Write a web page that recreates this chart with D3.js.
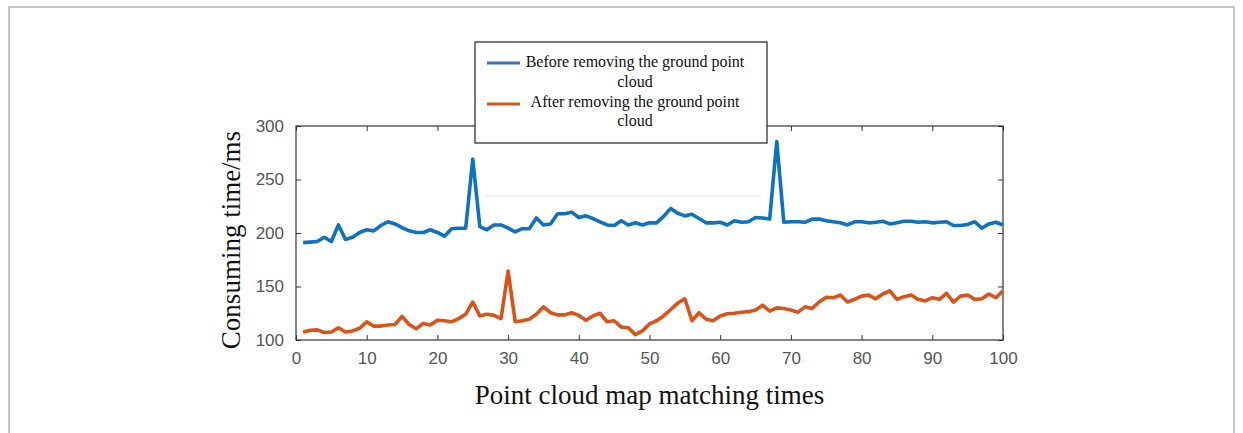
<!DOCTYPE html>
<html><head><meta charset="utf-8">
<script src="https://cdn.jsdelivr.net/npm/d3@7/dist/d3.min.js"></script>
<style>html,body{margin:0;padding:0;background:#fff;}svg{display:block;}</style>
</head><body>
<svg id="chart" width="1243" height="433"></svg>
<script>
const seriesNames = ["Before removing the ground point cloud", "After removing the ground point cloud"];
const legendLines = [["Before removing the ground point", "cloud"], ["After removing the ground point", "cloud"]];
const beforeValues = [191,191.5,192,196,192,207.5,194,196,200.5,203,202,207,210.5,208.5,205,202,200.5,200.5,203,200.5,197,204,204.5,204.5,269,206,203,207.5,207.5,204.5,201,204,204,214,207.5,208.5,218,218,219.5,214.5,216,213.5,210.5,207.5,207,211.5,207.5,209.5,207.5,209.5,209.5,215.5,223,218.5,216,217.5,213.5,209.5,209.5,210,207.5,211.5,210,210.5,214.5,214,213,285.5,210,210.5,210.5,210,213,213,211.5,210.5,209.5,207.5,210.5,210.5,209.5,210,211,208.5,209.5,211,211,210,210.5,209.5,210,210.5,207,207,208,210.5,204.5,208.5,210,207.5];
const afterValues = [107.5,109,109.5,107,107.5,111.5,107.5,108.5,111,117,113,113,114,114.5,122,114.5,110.5,115.5,114,118.5,118,117,120,124,135.5,122.5,124,123,120,164.5,117,118,119.5,124,131,125.5,123.5,123.5,125.5,123,118.5,122.5,125,117,118,112,111.5,105,108.5,115,118,122.5,128.5,134.5,138.5,118,125.5,119.5,118,122.5,124.5,125,126,126.5,128,132.5,127,130,129.5,128,126,131,129.5,135.5,140,139.5,142,135.5,138,141,142,138.5,143,146,138,140.5,142,138,136.5,139.5,138,143.5,135.5,141,142,138,138.5,143,139.5,146];
const xTicks = [0,10,20,30,40,50,60,70,80,90,100];
const yTicks = [100,150,200,250,300];
const xLabel = "Point cloud map matching times";
const yLabel = "Consuming time/ms";

const svg = d3.select("#chart");
const L = 296, R = 1003, T = 126, B = 340;
const x = d3.scaleLinear().domain([0, 100]).range([L, R]);
const y = d3.scaleLinear().domain([100, 300]).range([B, T]);

// outer frame
svg.append("path").attr("d", `M9,433 L9,7 L1234,7 L1234,433`).attr("fill", "none")
  .attr("stroke", "#b5b5b5").attr("stroke-width", 1.5);

const tickStyle = g => {
  g.select(".domain").remove();
  g.selectAll(".tick line").attr("stroke", "#333").attr("stroke-width", 1);
  g.selectAll(".tick text").attr("fill", "#555").attr("font-family", "Liberation Sans, Arial, sans-serif").attr("font-size", 17);
};
svg.append("g").attr("transform", `translate(0,${B})`)
  .call(d3.axisBottom(x).tickValues(xTicks).tickSizeInner(-5).tickSizeOuter(0).tickPadding(12))
  .call(tickStyle);
svg.append("g").attr("transform", `translate(0,${T})`)
  .call(d3.axisTop(x).tickValues(xTicks).tickSizeInner(-5).tickSizeOuter(0).tickFormat(""))
  .call(tickStyle);
svg.append("g").attr("transform", `translate(${L},0)`)
  .call(d3.axisLeft(y).tickValues(yTicks).tickSizeInner(-5).tickSizeOuter(0).tickPadding(12))
  .call(tickStyle);
svg.append("g").attr("transform", `translate(${R},0)`)
  .call(d3.axisRight(y).tickValues(yTicks).tickSizeInner(-5).tickSizeOuter(0).tickFormat(""))
  .call(tickStyle);

// box
svg.append("rect").attr("x", L).attr("y", T).attr("width", R - L).attr("height", B - T)
  .attr("fill", "none").attr("stroke", "#333").attr("stroke-width", 1.2);

// faint artifact line
svg.append("line").attr("x1", 485).attr("x2", 761).attr("y1", 196).attr("y2", 196)
  .attr("stroke", "#e4e4e4").attr("stroke-width", 1);

const colors = ["#0f72c0", "#d9541a"];
const line = d3.line().x((d, i) => x(i + 1)).y(d => y(d));
[beforeValues, afterValues].forEach((vals, k) => {
  svg.append("path").datum(vals).attr("d", line).attr("fill", "none")
    .attr("stroke", colors[k]).attr("stroke-width", 3.6).attr("stroke-linejoin", "round");
});

// legend
const lg = svg.append("g");
lg.append("rect").attr("x", 475).attr("y", 42).attr("width", 292).attr("height", 101)
  .attr("fill", "#fff").attr("stroke", "#222").attr("stroke-width", 1.2);
const legendColors = ["#3d70c4", "#cc5a26"];
const lineY = [63, 104];
const textY = [[67, 87], [107, 126]];
legendLines.forEach((lines, k) => {
  lg.append("line").attr("x1", 487).attr("x2", 520).attr("y1", lineY[k]).attr("y2", lineY[k])
    .attr("stroke", legendColors[k]).attr("stroke-width", 3);
  lines.forEach((t, j) => {
    lg.append("text").attr("x", 635).attr("y", textY[k][j]).attr("text-anchor", "middle")
      .attr("font-family", "Liberation Serif, Times New Roman, serif").attr("font-size", 16)
      .attr("fill", "#111").text(t);
  });
});

// axis titles
svg.append("text").attr("x", (L + R) / 2).attr("y", 404).attr("text-anchor", "middle")
  .attr("font-family", "Liberation Serif, Times New Roman, serif").attr("font-size", 27)
  .attr("fill", "#111").text(xLabel);
svg.append("text").attr("transform", `translate(240,240) rotate(-90)`).attr("text-anchor", "middle")
  .attr("font-family", "Liberation Serif, Times New Roman, serif").attr("font-size", 27)
  .attr("fill", "#111").text(yLabel);
</script>
</body></html>
